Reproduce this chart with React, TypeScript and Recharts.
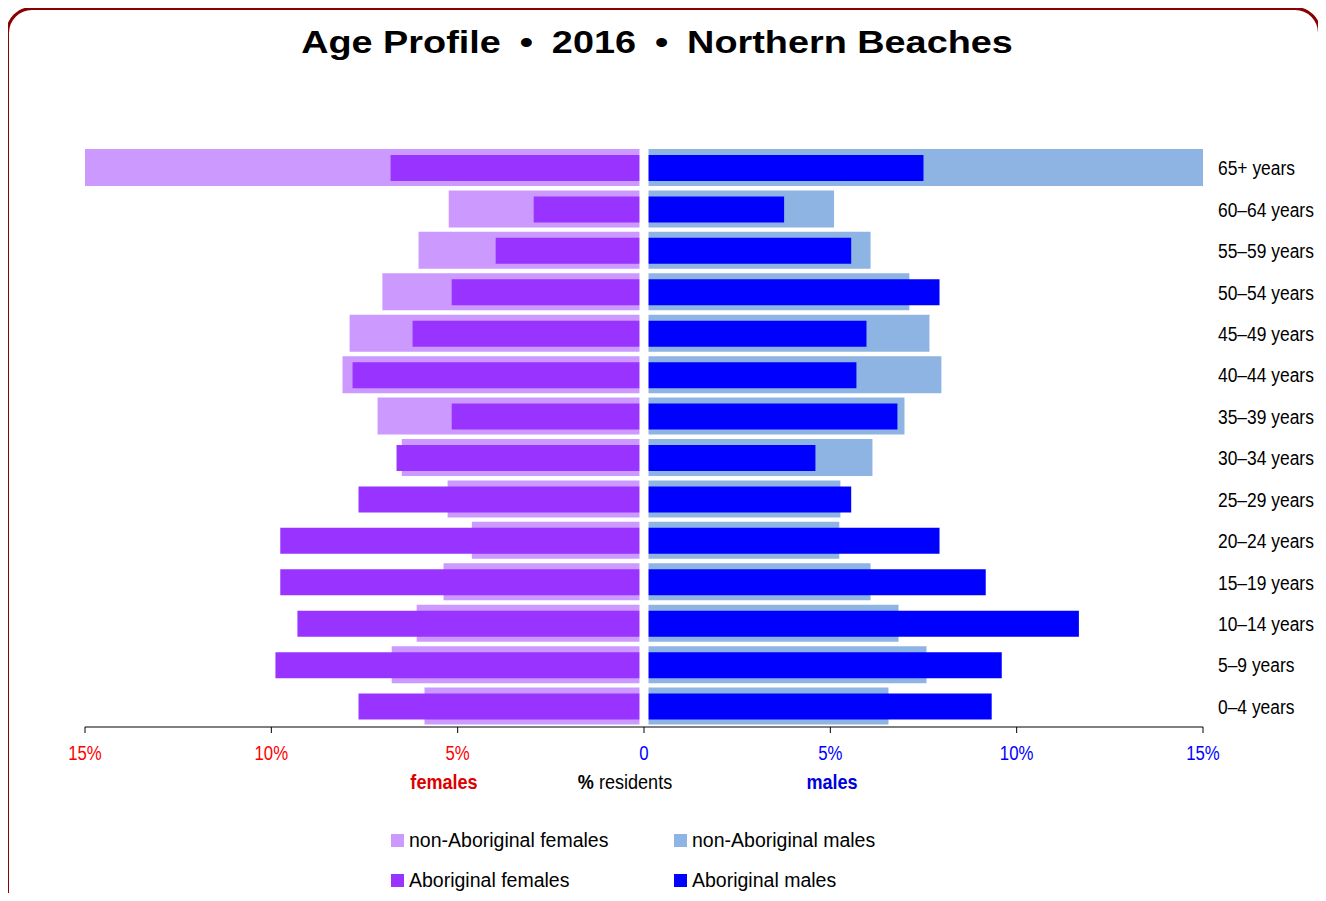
import React from "react";
import { BarChart, Bar, XAxis, YAxis, ReferenceLine } from "recharts";

// age groups, bottom to top
const ageGroups = [
  "0–4 years",
  "5–9 years",
  "10–14 years",
  "15–19 years",
  "20–24 years",
  "25–29 years",
  "30–34 years",
  "35–39 years",
  "40–44 years",
  "45–49 years",
  "50–54 years",
  "55–59 years",
  "60–64 years",
  "65+ years",
];

// % of residents in each group
const nonAbFemales = [5.89, 6.77, 6.1, 5.38, 4.62, 5.27, 6.5, 7.15, 8.09, 7.9, 7.02, 6.05, 5.24, 15.0];
const abFemales = [7.66, 9.89, 9.3, 9.76, 9.76, 7.66, 6.64, 5.16, 7.82, 6.21, 5.16, 3.98, 2.96, 6.8];
const nonAbMales = [6.56, 7.58, 6.83, 6.08, 5.24, 5.27, 6.13, 6.99, 7.98, 7.66, 7.12, 6.08, 5.1, 15.0];
const abMales = [9.33, 9.6, 11.67, 9.17, 7.93, 5.56, 4.6, 6.8, 5.7, 5.97, 7.93, 5.56, 3.76, 7.5];

const pctTicks = [-15, -10, -5, 0, 5, 10, 15];

const seriesNames = ["non-Aboriginal females", "non-Aboriginal males", "Aboriginal females", "Aboriginal males"];

const FONT = '"Liberation Sans", Arial, Helvetica, sans-serif';
const LIGHT_F = "#CC99FF";
const DARK_F = "#9933FF";
const LIGHT_M = "#8EB4E3";
const DARK_M = "#0000FF";
const seriesColors = [LIGHT_F, LIGHT_M, DARK_F, DARK_M];

// labels in the original are set in a condensed face, so squeeze them a bit
const PctTick = (props: any) => {
  const { x, y, payload } = props;
  const v = payload.value as number;
  return (
    <g transform={`translate(${x},${y})`}>
      <text
        transform="scale(0.8,1)"
        dy={25}
        textAnchor="middle"
        fontSize={21}
        fontFamily={FONT}
        fill={v < 0 ? "#FF0000" : "#0000FF"}
      >
        {v === 0 ? "0" : `${Math.abs(v)}%`}
      </text>
    </g>
  );
};

const AgeTick = (props: any) => {
  const { x, y, payload } = props;
  return (
    <g transform={`translate(${x},${y})`}>
      <text transform="scale(0.83,1)" dy={7.5} textAnchor="start" fontSize={21} fontFamily={FONT} fill="#000">
        {payload.value}
      </text>
    </g>
  );
};

const centerText = (left: number, top: number, sx: number): React.CSSProperties => ({
  position: "absolute",
  left,
  top,
  transform: `translate(-50%, -50%) scaleX(${sx})`,
  fontSize: 21,
  whiteSpace: "nowrap",
});

export default function App() {
  const data = ageGroups.map((age, i) => ({
    age,
    nonAbF: -nonAbFemales[i],
    nonAbM: nonAbMales[i],
    abF: -abFemales[i],
    abM: abMales[i],
  }));

  return (
    <div
      style={{
        position: "relative",
        width: 1326,
        height: 901,
        margin: -8,
        overflow: "hidden",
        fontFamily: FONT,
        background: "#fff",
      }}
    >
      <div
        style={{
          position: "absolute",
          left: 6,
          top: 7,
          width: 1315,
          height: 940,
          border: "3px solid #8B0000",
          borderRadius: 26,
          boxSizing: "border-box",
        }}
      />
      <div style={{ ...centerText(657, 43, 1.22), fontSize: 31, fontWeight: "bold" }}>
        Age Profile{"\u2002•\u2002"}2016{"\u2002•\u2002"}Northern Beaches
      </div>

      <div style={{ position: "absolute", left: 0, top: 0 }}>
        <BarChart
          width={1326}
          height={901}
          data={data}
          layout="vertical"
          stackOffset="sign"
          margin={{ top: 147, right: 8, bottom: 144, left: 85 }}
        >
          <XAxis
            type="number"
            domain={[-15, 15]}
            ticks={pctTicks}
            allowDataOverflow
            tick={<PctTick />}
            tickSize={6}
            stroke="#000"
            height={30}
          />
          <YAxis
            yAxisId="wide"
            type="category"
            dataKey="age"
            reversed
            orientation="right"
            width={115}
            axisLine={false}
            tickLine={false}
            tickSize={0}
            tickMargin={15}
            interval={0}
            tick={<AgeTick />}
          />
          <YAxis yAxisId="narrow" type="category" dataKey="age" reversed hide />
          <Bar dataKey="nonAbF" name={seriesNames[0]} yAxisId="wide" stackId="wide" fill={LIGHT_F} barSize={37} isAnimationActive={false} />
          <Bar dataKey="nonAbM" name={seriesNames[1]} yAxisId="wide" stackId="wide" fill={LIGHT_M} barSize={37} isAnimationActive={false} />
          <Bar dataKey="abF" name={seriesNames[2]} yAxisId="narrow" stackId="narrow" fill={DARK_F} barSize={26} isAnimationActive={false} />
          <Bar dataKey="abM" name={seriesNames[3]} yAxisId="narrow" stackId="narrow" fill={DARK_M} barSize={26} isAnimationActive={false} />
          <ReferenceLine x={0} yAxisId="wide" stroke="#fff" strokeWidth={9} />
        </BarChart>
      </div>

      <div style={{ ...centerText(444, 782, 0.86), fontWeight: "bold", color: "#DD0000" }}>females</div>
      <div style={{ ...centerText(625, 782, 0.86), color: "#000" }}>
        <b>%</b> residents
      </div>
      <div style={{ ...centerText(832, 782, 0.86), fontWeight: "bold", color: "#0000DD" }}>males</div>

      <div
        style={{
          position: "absolute",
          left: 391,
          top: 827,
          display: "grid",
          gridTemplateColumns: "283px 260px",
          rowGap: 14,
          fontSize: 19.5,
        }}
      >
        {seriesNames.map((name, i) => (
          <div key={name} style={{ display: "flex", alignItems: "center", height: 26 }}>
            <span style={{ width: 13, height: 13, background: seriesColors[i], marginRight: 5 }} />
            {name}
          </div>
        ))}
      </div>
    </div>
  );
}
